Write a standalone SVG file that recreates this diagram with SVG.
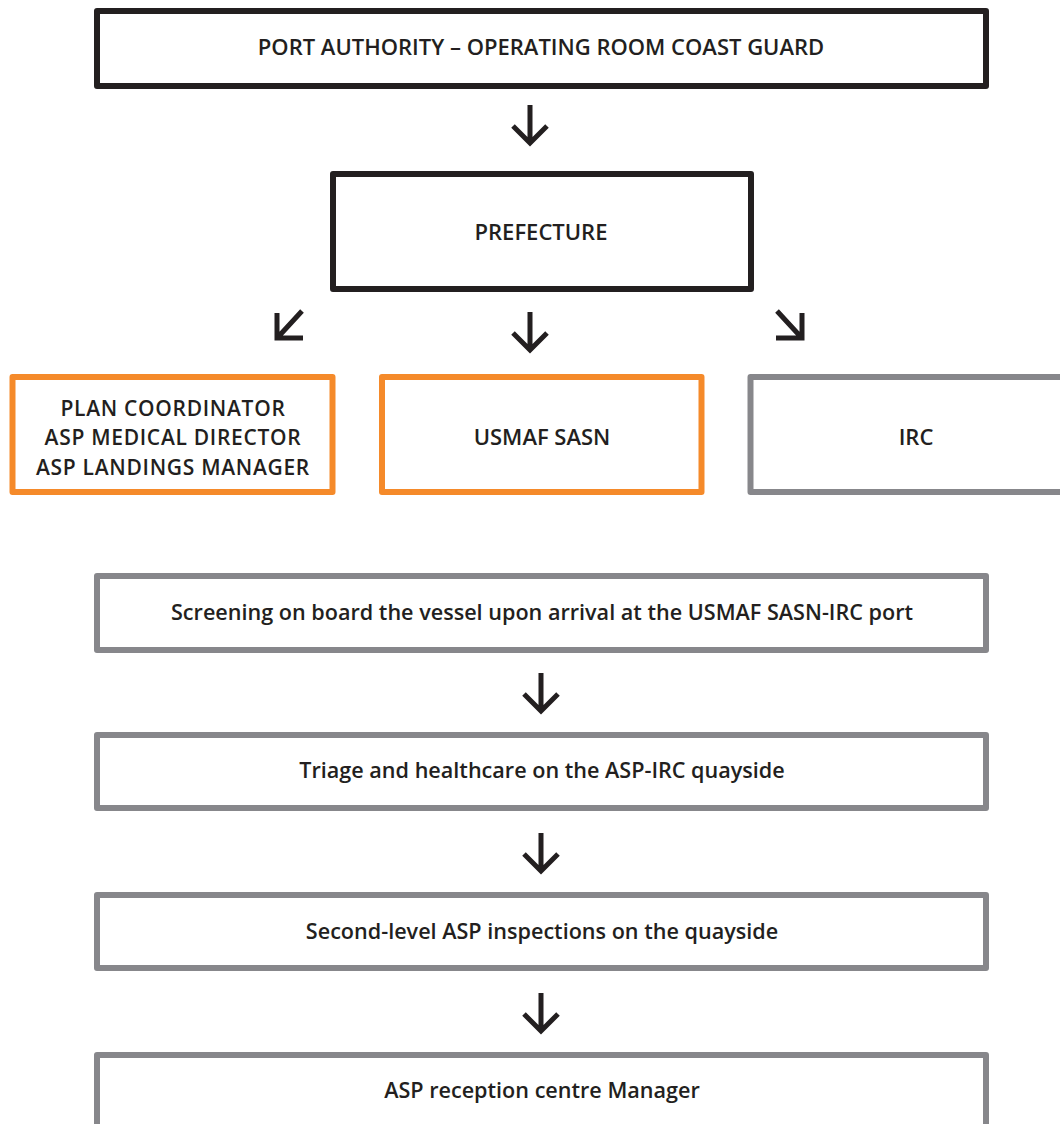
<svg xmlns="http://www.w3.org/2000/svg" width="1060" height="1124" viewBox="0 0 1060 1124">
  <style>
    .box { fill: #ffffff; stroke-width: 6; stroke-linejoin: round; }
    .black { stroke: #231f20; }
    .orange { stroke: #f58a2a; }
    .gray { stroke: #87878b; }
    .lbl { font-family: "Open Sans", "Noto Sans", sans-serif; font-weight: 600; font-size: 22px; fill: #231f20; text-anchor: middle; }
    .sm { font-size: 21.6px; }
    .ml { font-size: 21px; letter-spacing: 0.7px; }
    .arr { fill: none; stroke: #231f20; stroke-width: 5; stroke-linejoin: miter; stroke-linecap: butt; }
  </style>
  <defs>
    <path id="down" class="arr" d="M0,0 V38 M-17,21 L0,38 L17,21"/>
  </defs>
  <rect width="1060" height="1124" fill="#ffffff"/>

  <g id="port-authority">
    <rect class="box black" x="97" y="11" width="889" height="75"/>
    <text class="lbl" x="541" y="55">PORT AUTHORITY – OPERATING ROOM COAST GUARD</text>
  </g>
  <g id="prefecture">
    <rect class="box black" x="333" y="174" width="418" height="115"/>
    <text class="lbl" x="541" y="240">PREFECTURE</text>
  </g>
  <g id="plan-coordinator">
    <rect class="box orange" x="12.5" y="377" width="320" height="115"/>
    <text class="lbl ml" x="173" y="415.5">PLAN COORDINATOR</text>
    <text class="lbl ml" x="173" y="445">ASP MEDICAL DIRECTOR</text>
    <text class="lbl ml" x="173" y="474.5">ASP LANDINGS MANAGER</text>
  </g>
  <g id="usmaf-sasn">
    <rect class="box orange" x="382" y="377" width="319.5" height="115"/>
    <text class="lbl" x="542" y="445">USMAF SASN</text>
  </g>
  <g id="irc">
    <rect class="box gray" x="750.5" y="377" width="330" height="115"/>
    <text class="lbl" x="916" y="445">IRC</text>
  </g>
  <g id="screening">
    <rect class="box gray" x="97" y="576" width="889" height="74"/>
    <text class="lbl sm" x="542" y="620">Screening on board the vessel upon arrival at the USMAF SASN-IRC port</text>
  </g>
  <g id="triage">
    <rect class="box gray" x="97" y="735" width="889" height="73"/>
    <text class="lbl sm" x="542" y="778">Triage and healthcare on the ASP-IRC quayside</text>
  </g>
  <g id="second-level">
    <rect class="box gray" x="97" y="895" width="889" height="73"/>
    <text class="lbl sm" x="542" y="939">Second-level ASP inspections on the quayside</text>
  </g>
  <g id="reception-manager">
    <rect class="box gray" x="97" y="1055" width="889" height="80"/>
    <text class="lbl sm" x="542" y="1098">ASP reception centre Manager</text>
  </g>

  <g id="connectors">
    <use href="#down" x="530" y="105"/>
    <use href="#down" x="530" y="312"/>
    <path class="arr" d="M302,311 L279,336 M277,313 V338 H303"/>
    <path class="arr" d="M777,311 L800,336 M802,313 V338 H776"/>
    <use href="#down" x="541" y="673"/>
    <use href="#down" x="541" y="833"/>
    <use href="#down" x="541" y="993"/>
  </g>
</svg>
